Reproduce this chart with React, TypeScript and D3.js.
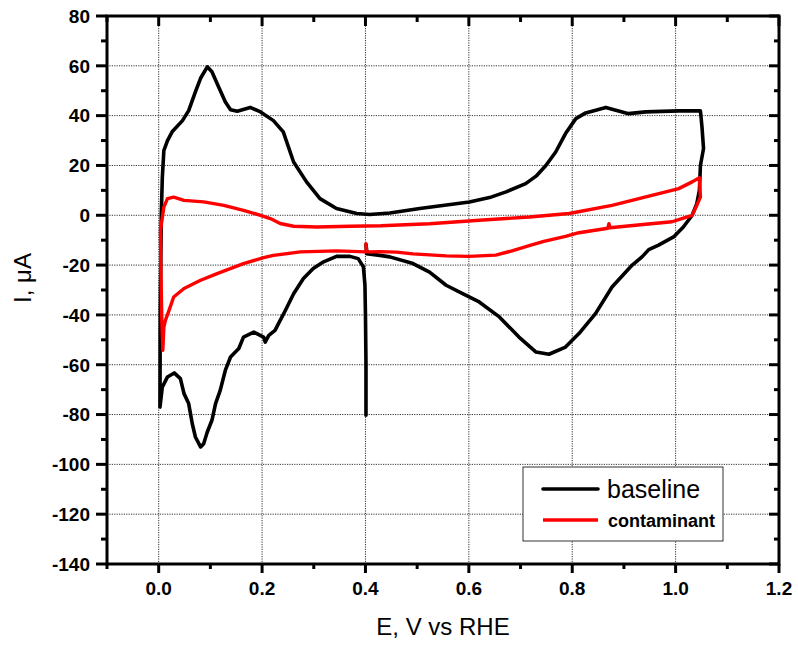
import React from "react";
import * as d3 from "d3";

const baselineE = [
  0.401, 0.401, 0.4, 0.399, 0.396, 0.386, 0.37, 0.344, 0.319, 0.299, 0.28, 0.261, 0.245, 0.235, 0.225, 0.213, 0.206, 0.203, 0.184, 0.164, 0.155, 0.139, 0.129, 0.119, 0.11, 0.103, 0.094, 0.087, 0.081, 0.071, 0.065, 0.058, 0.049, 0.042, 0.03, 0.017, 0.007, 0.0025,
  0.003, 0.005, 0.007, 0.01, 0.017, 0.026, 0.046, 0.058, 0.071, 0.081, 0.094, 0.103, 0.116, 0.129, 0.139, 0.152, 0.177, 0.197, 0.222, 0.241, 0.261, 0.286, 0.312, 0.344, 0.383, 0.408, 0.447, 0.505, 0.601, 0.64, 0.672, 0.71, 0.73, 0.749, 0.768, 0.787, 0.807, 0.826, 0.865, 0.909, 0.942, 1.006, 1.048,
  1.051, 1.054, 1.048, 1.046, 1.041, 1.032, 1.015, 0.996, 0.967, 0.948, 0.935, 0.916, 0.877, 0.845, 0.813, 0.787, 0.755, 0.73, 0.697, 0.659, 0.62, 0.588, 0.556, 0.524, 0.492, 0.447, 0.428, 0.402, 0.401, 0.403,
];
const baselineI = [
  -80.3, -60, -40, -28, -20.7, -17.4, -16.5, -16.5, -18.7, -21.4, -25.4, -31.5, -38.2, -42.2, -46.2, -48.2, -50.9, -48.9, -46.9, -48.9, -53.5, -56.9, -62.2, -70.3, -75.6, -82.3, -87, -91.7, -93, -89, -83.7, -75.6, -71.6, -65.6, -63.3, -64.9, -69, -77,
  -40, 0, 15, 26, 30, 33.5, 38, 42, 49.5, 55, 59.6, 57.6, 51.5, 45.5, 42.4, 41.8, 43.3, 41.5, 38, 33.5, 21.4, 13.4, 6.7, 2.7, 0.7, 0.3, 0.9, 2.7, 5.3, 7.1, 9.4, 12.7, 15.7, 20, 25.4, 32.8, 38.8, 41.1, 43.3, 40.8, 41.5, 41.9, 41.9,
  35.5, 26.8, 20, 10, 4.7, 0, -4.7, -8.7, -12, -13.8, -16.7, -20, -28.8, -39.5, -47.5, -52.9, -55.8, -54.9, -48.9, -40.8, -34.8, -31.5, -28.1, -22.8, -19.4, -16.7, -16.1, -15.4, -11.8, -15,
];

const contaminantE = [
  0.401, 0.402, 0.344, 0.274, 0.222, 0.203, 0.164, 0.113, 0.081, 0.049, 0.029, 0.02, 0.013, 0.01, 0.008, 0.006, 0.004, 0.0035,
  0.01, 0.017, 0.029, 0.049, 0.087, 0.126, 0.164, 0.197, 0.216, 0.235, 0.261, 0.306, 0.37, 0.43, 0.524, 0.62, 0.717, 0.794, 0.877, 0.954, 1.006, 1.032, 1.046,
  1.048, 1.041, 1.032, 1.012, 0.993, 0.942, 0.873, 0.871, 0.869, 0.813, 0.787, 0.745, 0.72, 0.685, 0.652, 0.6, 0.556, 0.492, 0.46, 0.428, 0.405,
];
const contaminantI = [
  -11.4, -14.7, -14.3, -14.7, -16.1, -17, -19.4, -23.4, -26.1, -29.4, -32.8, -38.2, -42.2, -44.9, -54.2, -42, -19, -6,
  3.3, 6.7, 7.3, 6, 5.4, 4, 2, 0, -1.3, -3.3, -4.4, -4.7, -4.4, -4.2, -3.4, -2, -0.7, 0.7, 4, 8, 10.7, 13.4, 15.1,
  7.3, 4, 0, -1.3, -2.6, -3.6, -5, -3.4, -5.2, -7, -8.5, -10.5, -12, -14.2, -16, -16.5, -16.3, -15.5, -14.8, -14.6, -14.7,
];

const xMajor = [0.0, 0.2, 0.4, 0.6, 0.8, 1.0, 1.2];
const xAll = [-0.1, 0.0, 0.1, 0.2, 0.3, 0.4, 0.5, 0.6, 0.7, 0.8, 0.9, 1.0, 1.1, 1.2];
const yMajor = [80, 60, 40, 20, 0, -20, -40, -60, -80, -100, -120, -140];
const yMinor = [70, 50, 30, 10, -10, -30, -50, -70, -90, -110, -130];
const xGrid = [0.0, 0.2, 0.4, 0.6, 0.8, 1.0];
const yGrid = [60, 40, 20, 0, -20, -40, -60, -80, -100, -120];

const seriesNames = ["baseline", "contaminant"];

const W = 798;
const H = 645;
const L = 107, R = 779, T = 16, B = 564;
const font = "'Liberation Sans', Arial, sans-serif";

export default function App() {
  const x = d3.scaleLinear().domain([-0.1, 1.2]).range([L, R]);
  const y = d3.scaleLinear().domain([-140, 80]).range([B, T]);
  const line = d3
    .line<[number, number]>()
    .x((d) => x(d[0]))
    .y((d) => y(d[1]));
  const blackPts = baselineE.map((e, i) => [e, baselineI[i]] as [number, number]);
  const redPts = contaminantE.map((e, i) => [e, contaminantI[i]] as [number, number]);
  const isMajorX = (v: number) => xMajor.some((m) => Math.abs(m - v) < 1e-9);

  return (
    <svg width={W} height={H} style={{ position: "absolute", left: 0, top: 0, background: "#fff" }}>
      <rect x={0} y={0} width={W} height={H} fill="#fff" />
      {/* grid */}
      {xGrid.map((v) => (
        <line key={"gx" + v} x1={x(v)} x2={x(v)} y1={T} y2={B} stroke="#333" strokeWidth={1} strokeDasharray="1.2,1.2" />
      ))}
      {yGrid.map((v) => (
        <line key={"gy" + v} x1={L} x2={R} y1={y(v)} y2={y(v)} stroke="#333" strokeWidth={1} strokeDasharray="1.2,1.2" />
      ))}
      {/* curves */}
      <path d={line(blackPts) || ""} fill="none" stroke="#000" strokeWidth={3.6} strokeLinejoin="round" strokeLinecap="round" />
      <path d={line(redPts) || ""} fill="none" stroke="#ff0000" strokeWidth={3.4} strokeLinejoin="round" strokeLinecap="round" />
      {/* frame */}
      <rect x={L} y={T} width={R - L} height={B - T} fill="none" stroke="#000" strokeWidth={3} />
      {/* x ticks */}
      {xAll.map((v) => {
        const maj = isMajorX(v);
        return (
          <g key={"xt" + v}>
            <line x1={x(v)} x2={x(v)} y1={B} y2={B + (maj ? 9 : 5)} stroke="#000" strokeWidth={3} />
            <line x1={x(v)} x2={x(v)} y1={T} y2={T + (maj ? 10 : 6)} stroke="#000" strokeWidth={3} />
          </g>
        );
      })}
      {/* y ticks */}
      {yMajor.map((v) => (
        <g key={"ym" + v}>
          <line x1={L - 11} x2={L} y1={y(v)} y2={y(v)} stroke="#000" strokeWidth={3} />
          <line x1={R - 10} x2={R} y1={y(v)} y2={y(v)} stroke="#000" strokeWidth={3} />
        </g>
      ))}
      {yMinor.map((v) => (
        <g key={"yn" + v}>
          <line x1={L - 6} x2={L} y1={y(v)} y2={y(v)} stroke="#000" strokeWidth={3} />
          <line x1={R - 5} x2={R} y1={y(v)} y2={y(v)} stroke="#000" strokeWidth={3} />
        </g>
      ))}
      {/* tick labels */}
      {xMajor.map((v) => (
        <text key={"xl" + v} x={x(v)} y={595} textAnchor="middle" fontFamily={font} fontWeight="bold" fontSize={19}>
          {v.toFixed(1)}
        </text>
      ))}
      {yMajor.map((v) => (
        <text key={"yl" + v} x={90} y={y(v)} dy="0.36em" textAnchor="end" fontFamily={font} fontWeight="bold" fontSize={19}>
          {v}
        </text>
      ))}
      {/* axis titles */}
      <text x={(L + R) / 2} y={635} textAnchor="middle" fontFamily={font} fontSize={24}>
        E, V vs RHE
      </text>
      <text transform={`translate(31, 278) rotate(-90)`} textAnchor="middle" fontFamily={font} fontSize={24}>
        I, μA
      </text>
      {/* legend */}
      <rect x={523} y={467} width={200} height={74} fill="#fff" stroke="#333" strokeWidth={1} />
      <line x1={543} x2={598} y1={489} y2={489} stroke="#000" strokeWidth={3.6} strokeLinecap="round" />
      <text x={607} y={498} fontFamily={font} fontSize={25}>
        {seriesNames[0]}
      </text>
      <line x1={543} x2={598} y1={520} y2={520} stroke="#ff0000" strokeWidth={3.4} />
      <text x={608} y={527} fontFamily={font} fontWeight="bold" fontSize={18}>
        {seriesNames[1]}
      </text>
    </svg>
  );
}
